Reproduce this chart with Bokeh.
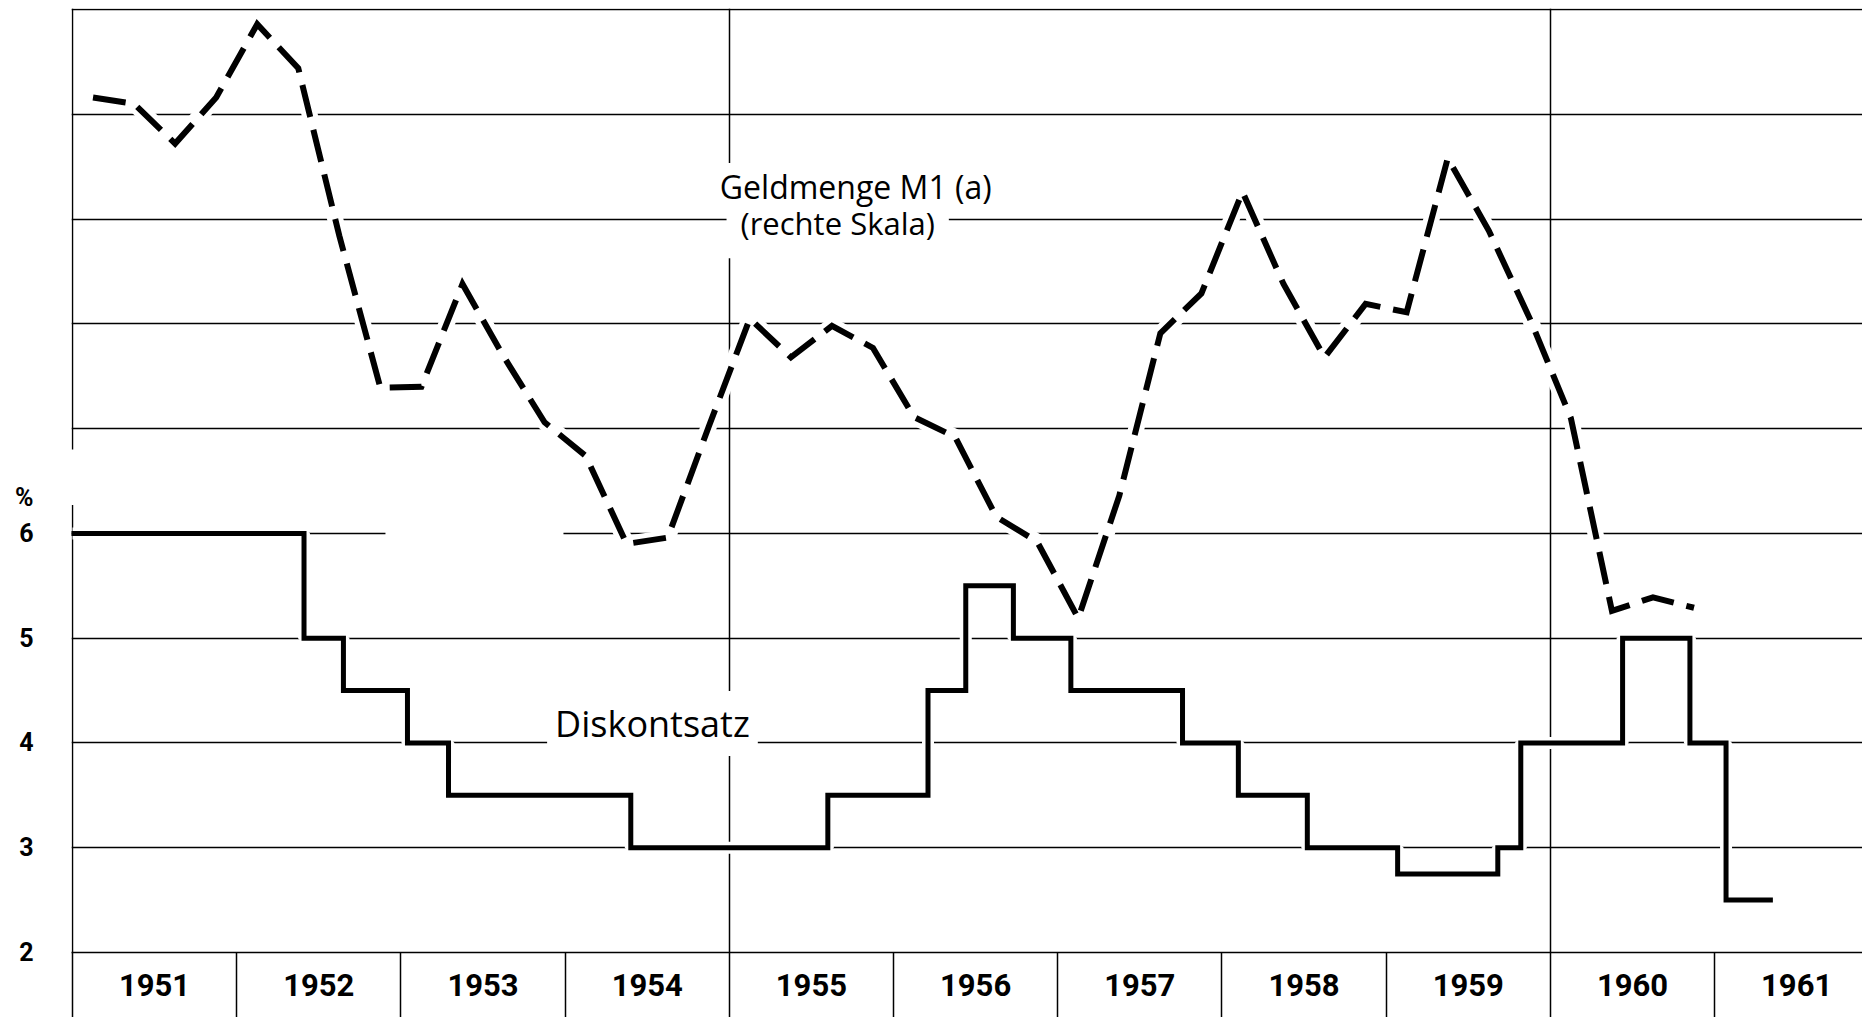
from bokeh.plotting import figure
from bokeh.models import Range1d, FixedTicker, LinearAxis, Grid, Label
from bokeh.embed import file_html
from bokeh.resources import INLINE

# ---------------- data ----------------
year_labels = [str(y) for y in range(1951, 1962)]
year_bounds = list(range(1951, 1963))

# Diskontsatz (%, left scale): dates of change (decimal years) and rate in force
disc_dates = [1951.0, 1952.41, 1952.65, 1953.04, 1953.29, 1954.40, 1955.60, 1956.21,
              1956.44, 1956.73, 1957.08, 1957.76, 1958.10, 1958.52, 1959.07, 1959.68,
              1959.82, 1960.44, 1960.85, 1961.07, 1961.34]
disc_rates = [6.0, 5.0, 4.5, 4.0, 3.5, 3.0, 3.5, 4.5,
              5.5, 5.0, 4.5, 4.0, 3.5, 3.0, 2.75, 3.0,
              4.0, 5.0, 4.0, 2.5, 2.5]

# Geldmenge M1 (a), quarterly, right scale (read in grid units)
m1_years = list(range(1951, 1961))
m1_quarters = [1, 2, 3, 4]
m1_values = [10.16, 10.10, 9.72, 10.16, 10.86, 10.44, 8.84, 7.39, 7.40, 8.38,
             7.69, 7.06, 6.74, 5.90, 5.96, 7.02, 8.05, 7.68, 7.98, 7.77,
             7.11, 6.92, 6.16, 5.92, 5.19, 6.36, 7.91, 8.29, 9.26, 8.38,
             7.68, 8.19, 8.11, 9.58, 8.89, 8.05, 7.10, 5.26, 5.39, 5.29]
m1_x = [y + (q - 0.5) / 4 for y in m1_years for q in m1_quarters]

left_ticks = [2, 3, 4, 5, 6]
left_tick_labels = ["2", "3", "4", "5", "6"]
pct_pos = 6.34

X0, X1 = 1950.994, 1961.901
Y0, Y1 = 2.0, 11.0095

# ---------------- figure ----------------
p = figure(width=1862, height=1017,
           x_range=Range1d(X0, X1), y_range=Range1d(Y0, Y1),
           x_axis_type=None, y_axis_type=None,
           output_backend="svg", toolbar_location=None,
           min_border_left=71, min_border_right=0,
           min_border_top=8, min_border_bottom=65)
p.extra_y_ranges = {"m1": Range1d(Y0, Y1)}
p.outline_line_color = None
p.background_fill_color = "white"
p.border_fill_color = "white"

# grids
hgrid = Grid(dimension=1, ticker=FixedTicker(ticks=[3, 4, 5, 7, 8, 9, 10, 11]),
             grid_line_color="black", grid_line_width=1.5)
vgrid = Grid(dimension=0, ticker=FixedTicker(ticks=[1955, 1960]),
             grid_line_color="black", grid_line_width=1.5)
p.add_layout(hgrid)
p.add_layout(vgrid)

# 6 % line (drawn with its gap in 1953) and left border (broken at the % sign)
p.segment(x0=[X0, 1953.99], y0=[6, 6], x1=[1952.906, X1], y1=[6, 6],
          line_color="black", line_width=1.5)
p.segment(x0=[1951, 1951], y0=[Y0, 6.80], x1=[1951, 1951], y1=[6.27, Y1],
          line_color="black", line_width=1.5)

# bottom axis: year boxes
xa = LinearAxis(ticker=FixedTicker(ticks=[b + 0.5 for b in year_bounds[:-1]],
                                   minor_ticks=year_bounds),
                major_label_overrides={b + 0.5: lab for b, lab in zip(year_bounds[:-1], year_labels)})
xa.axis_line_color = "black"
xa.axis_line_width = 1.5
xa.major_tick_line_color = None
xa.major_tick_in = 0
xa.major_tick_out = 0
xa.minor_tick_line_color = "black"
xa.minor_tick_line_width = 1.5
xa.minor_tick_in = 0
xa.minor_tick_out = 65
xa.major_label_standoff = -44
xa.major_label_text_font = "Roboto"
xa.major_label_text_font_style = "bold"
xa.major_label_text_font_size = "31px"
xa.major_label_text_color = "black"
p.add_layout(xa, "below")

# left axis (%)
overrides = {t: s for t, s in zip(left_ticks, left_tick_labels)}
overrides[pct_pos] = "%"
ya = LinearAxis(ticker=FixedTicker(ticks=left_ticks + [pct_pos]),
                major_label_overrides=overrides)
ya.axis_line_color = None
ya.major_tick_line_color = None
ya.minor_tick_line_color = None
ya.major_tick_in = 0
ya.major_tick_out = 0
ya.major_label_standoff = 38
ya.major_label_text_font = "Roboto"
ya.major_label_text_font_style = "bold"
ya.major_label_text_font_size = "25px"
ya.major_label_text_color = "black"
p.add_layout(ya, "left")

# white halos (paper gaps around the curves)
p.line(m1_x, m1_values, y_range_name="m1", line_color="white", line_width=16)
p.step(disc_dates, disc_rates, mode="after", line_color="white", line_width=12)

# series
p.step(disc_dates, disc_rates, mode="after", line_color="black", line_width=5,
       line_join="miter", line_cap="square")
p.line(m1_x, m1_values, y_range_name="m1", line_color="black", line_width=6,
       line_dash="33 13", line_join="miter", line_cap="butt")

# labels
p.add_layout(Label(x=1955.66, y=8.96, text="(rechte Skala)", text_align="center",
                   text_baseline="alphabetic", text_font="Open Sans", text_font_size="31px",
                   text_color="black", background_fill_color="white", padding=14))
p.add_layout(Label(x=1955.77, y=9.31, text="Geldmenge M1 (a)", text_align="center",
                   text_baseline="alphabetic", text_font="Open Sans", text_font_size="32px",
                   text_color="black", background_fill_color="white", padding=2))
p.add_layout(Label(x=1954.532, y=4.185, text="Diskontsatz", text_align="center",
                   text_baseline="alphabetic", text_font="Open Sans", text_font_size="36px",
                   text_color="black", background_fill_color="white", padding=8))

open("out.html", "w").write(file_html(p, INLINE))
